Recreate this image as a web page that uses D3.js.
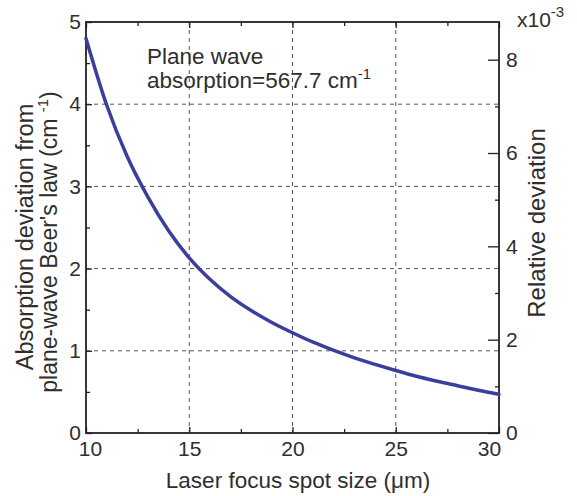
<!DOCTYPE html>
<html>
<head>
<meta charset="utf-8">
<script src="https://cdn.jsdelivr.net/npm/d3@7"></script>
<style>
  html, body { margin: 0; padding: 0; background: #fff; }
  svg { display: block; }
  text { font-family: "Liberation Sans", Arial, Helvetica, sans-serif; fill: #2e2e2e; }
</style>
</head>
<body>
<svg id="chart" width="577" height="496"></svg>
<script>
// ---- data ----
const spotSize = [10, 11, 12, 13, 14, 15, 16, 17, 18, 19, 20, 21, 22, 23, 24, 25, 26, 27, 28, 29, 30];
const absorptionDeviation = [4.80, 3.99, 3.36, 2.87, 2.46, 2.13, 1.87, 1.66, 1.49, 1.345, 1.22, 1.105, 1.005, 0.915, 0.835, 0.76, 0.69, 0.63, 0.575, 0.52, 0.47];
const xTicks = [10, 15, 20, 25, 30];
const xMinorTicks = [12.5, 17.5, 22.5, 27.5];
const yLeftTicks = [0, 1, 2, 3, 4, 5];
const yLeftMinorTicks = [0.5, 1.5, 2.5, 3.5, 4.5];
const yRightTicks = [0, 2, 4, 6, 8];
const yRightMinorTicks = [1, 3, 5, 7];
const planeWaveAbsorption = 567.7;

// ---- layout ----
const svg = d3.select("#chart");
const L = 86, R = 499, T = 22, B = 433;

const x = d3.scaleLinear().domain([10, 30]).range([L, R]);
const yL = d3.scaleLinear().domain([0, 5]).range([B, T]);
const yR = d3.scaleLinear().domain([0, 5 / planeWaveAbsorption * 1000]).range([B, T]);

const axisColor = "#222";
const gridColor = "#555";

// grid lines
const grid = svg.append("g");
grid.selectAll("line.gx").data(xTicks.filter(d => d > 10 && d < 30)).join("line")
  .attr("x1", d => x(d)).attr("x2", d => x(d)).attr("y1", T).attr("y2", B)
  .attr("stroke", gridColor).attr("stroke-width", 1).attr("stroke-dasharray", "4,4");
grid.selectAll("line.gy").data(yLeftTicks.filter(d => d > 0 && d < 5)).join("line")
  .attr("y1", d => yL(d)).attr("y2", d => yL(d)).attr("x1", L).attr("x2", R)
  .attr("stroke", gridColor).attr("stroke-width", 1).attr("stroke-dasharray", "4,4");

// axes via d3 axis generators (ticks inward)
function styleAxis(g) {
  g.select(".domain").remove();
  g.selectAll(".tick line").attr("stroke", axisColor).attr("stroke-width", 1.3);
  g.selectAll(".tick text").attr("fill", "#2e2e2e").style("font-size", "21px")
    .style("font-family", '"Liberation Sans", Arial, sans-serif');
}

// bottom
const gBottom = svg.append("g").attr("transform", `translate(0,${B})`)
  .call(d3.axisBottom(x).tickValues(xTicks).tickFormat(d3.format("d")).tickSizeInner(-6).tickPadding(8))
  .call(styleAxis);
// end labels sit slightly inside the frame, as in the reference
gBottom.selectAll(".tick text").attr("dx", d => d === 10 ? 4 : (d === 30 ? -10 : 0));
svg.append("g").attr("transform", `translate(0,${B})`)
  .call(d3.axisBottom(x).tickValues(xMinorTicks).tickFormat("").tickSizeInner(-4).tickSizeOuter(0))
  .call(styleAxis);
// top
svg.append("g").attr("transform", `translate(0,${T})`)
  .call(d3.axisTop(x).tickValues(xTicks).tickFormat("").tickSizeInner(-6).tickSizeOuter(0))
  .call(styleAxis);
svg.append("g").attr("transform", `translate(0,${T})`)
  .call(d3.axisTop(x).tickValues(xMinorTicks).tickFormat("").tickSizeInner(-4).tickSizeOuter(0))
  .call(styleAxis);
// left
svg.append("g").attr("transform", `translate(${L},0)`)
  .call(d3.axisLeft(yL).tickValues(yLeftTicks).tickFormat(d3.format("d")).tickSizeInner(-6).tickPadding(5))
  .call(styleAxis);
svg.append("g").attr("transform", `translate(${L},0)`)
  .call(d3.axisLeft(yL).tickValues(yLeftMinorTicks).tickFormat("").tickSizeInner(-4).tickSizeOuter(0))
  .call(styleAxis);
// right
svg.append("g").attr("transform", `translate(${R},0)`)
  .call(d3.axisRight(yR).tickValues(yRightTicks).tickFormat(d3.format("d")).tickSizeInner(-11).tickPadding(7))
  .call(styleAxis);
svg.append("g").attr("transform", `translate(${R},0)`)
  .call(d3.axisRight(yR).tickValues(yRightMinorTicks).tickFormat("").tickSizeInner(-4).tickSizeOuter(0))
  .call(styleAxis);

// frame
svg.append("rect").attr("x", L).attr("y", T).attr("width", R - L).attr("height", B - T)
  .attr("fill", "none").attr("stroke", axisColor).attr("stroke-width", 1.8);

// curve
const line = d3.line()
  .x((d, i) => x(spotSize[i]))
  .y(d => yL(d))
  .curve(d3.curveMonotoneX);
svg.append("path").datum(absorptionDeviation)
  .attr("d", line).attr("fill", "none")
  .attr("stroke", "#3a3f9c").attr("stroke-width", 3.5).attr("stroke-linecap", "round");

// annotation
const ann = svg.append("text").attr("x", 147).attr("y", 64).style("font-size", "22.5px");
ann.append("tspan").text("Plane wave");
const ann2 = svg.append("text").attr("x", 147).attr("y", 88).style("font-size", "22.5px");
ann2.append("tspan").text("absorption=" + planeWaveAbsorption.toFixed(1) + " cm");
ann2.append("tspan").attr("dy", -9).style("font-size", "15px").text("-1");

// x10^-3
const mult = svg.append("text").attr("x", 517).attr("y", 27).style("font-size", "21px");
mult.append("tspan").text("x10");
mult.append("tspan").attr("dy", -10).style("font-size", "15px").text("-3");

// x axis title
svg.append("text").attr("x", 298).attr("y", 488).attr("text-anchor", "middle")
  .style("font-size", "22.5px").text("Laser focus spot size (\u03bcm)");

// left title (two lines)
svg.append("text").attr("transform", `translate(33,${237}) rotate(-90)`)
  .attr("text-anchor", "middle").style("font-size", "23.5px").text("Absorption deviation from");
const lt2 = svg.append("text").attr("transform", `translate(57,${242}) rotate(-90)`)
  .attr("text-anchor", "middle").style("font-size", "23px");
lt2.append("tspan").text("plane-wave Beer's law (cm ");
lt2.append("tspan").attr("dy", -9).style("font-size", "15px").text("-1");
lt2.append("tspan").attr("dy", 9).text(")");

// right title
svg.append("text").attr("transform", `translate(545,${223}) rotate(-90)`)
  .attr("text-anchor", "middle").style("font-size", "24px").text("Relative deviation");
</script>
</body>
</html>
